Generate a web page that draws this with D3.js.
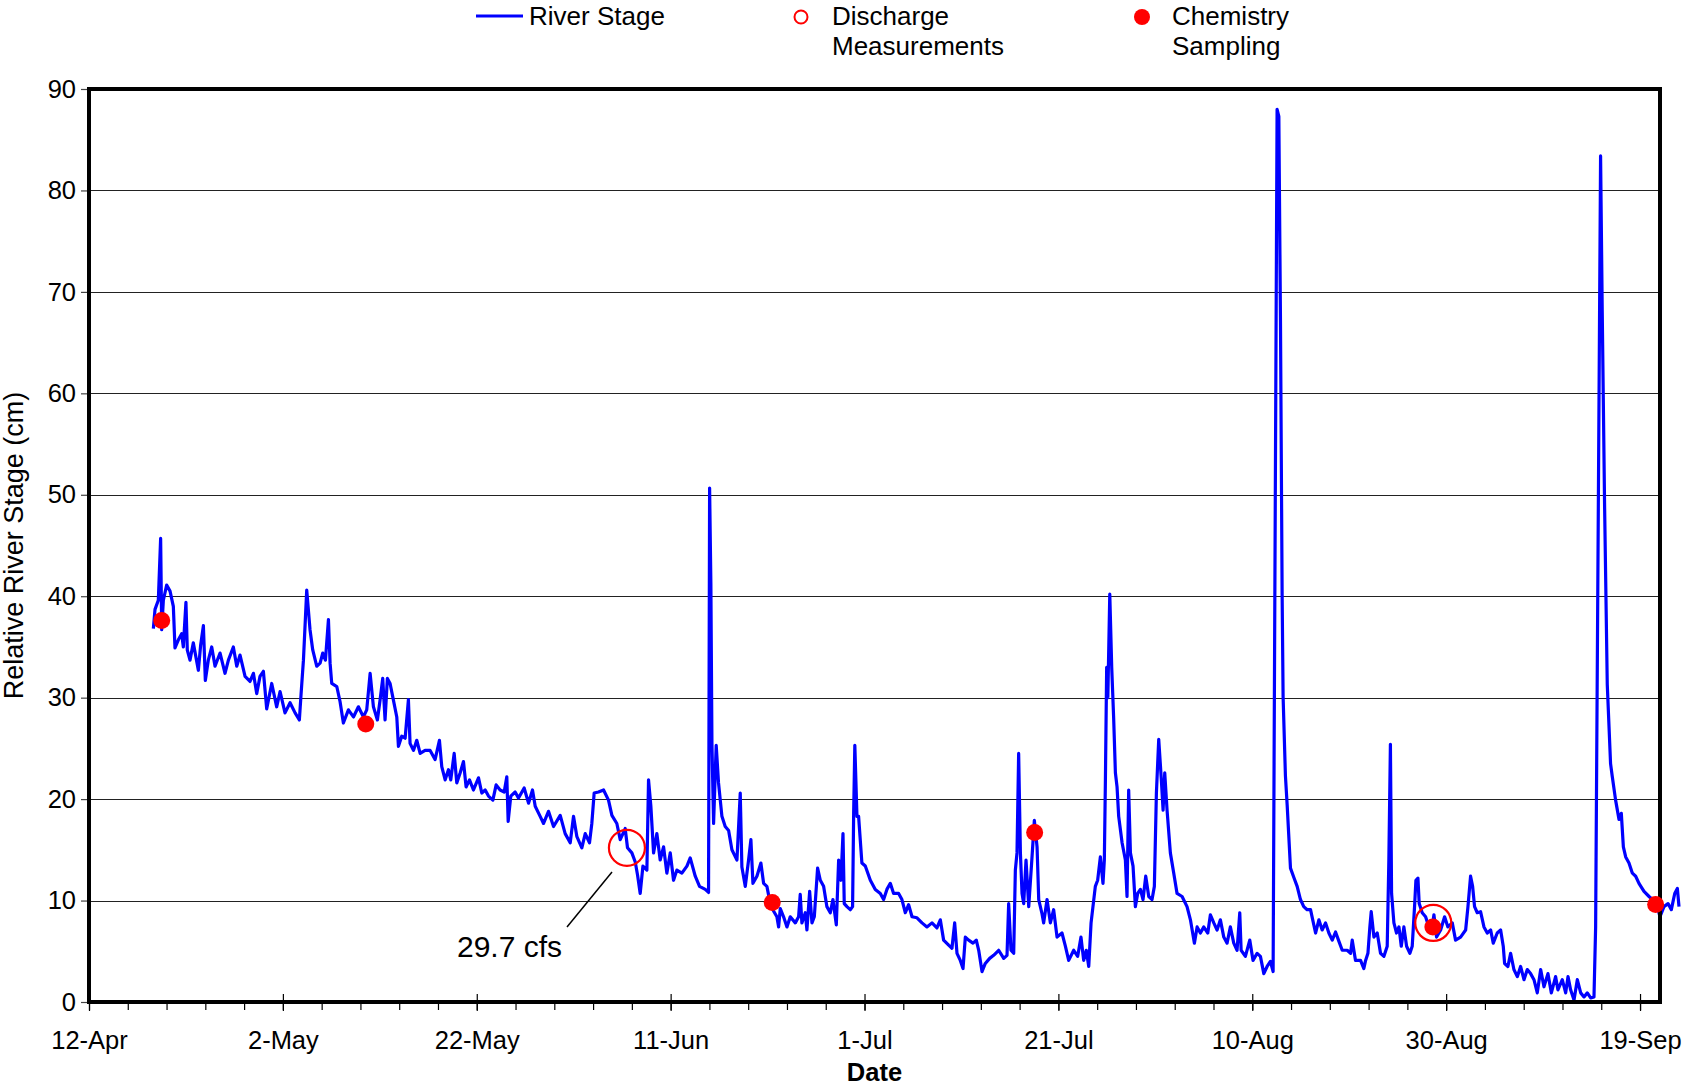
<!DOCTYPE html>
<html>
<head>
<meta charset="utf-8">
<script src="https://cdn.jsdelivr.net/npm/d3@7"></script>
<style>
  body { margin: 0; background: #fff; }
  svg { display: block; font-family: "Liberation Sans", Arial, sans-serif; }
</style>
</head>
<body>
<svg width="1684" height="1086"></svg>
<script>
// day offset from 12-Apr, stage (cm)
const riverStage = [
  [6.64,36.8],[6.81,38.7],[7.15,39.6],[7.39,45.7],[7.5,36.7],[7.67,39.6],[8.01,41.1],[8.36,40.5],[8.7,39.0],[8.87,34.9],
  [9.22,35.7],[9.56,36.3],[9.73,35.0],[10.0,39.4],[10.14,34.7],[10.42,33.7],[10.76,35.4],[11.28,32.7],[11.52,35.2],[11.8,37.1],
  [12.0,31.7],[12.31,33.7],[12.66,35.0],[13.0,33.1],[13.52,34.4],[14.03,32.4],[14.38,33.7],[14.89,35.0],[15.24,33.1],[15.58,34.2],
  [16.1,32.1],[16.61,31.6],[16.96,32.4],[17.3,30.4],[17.64,32.1],[17.99,32.6],[18.33,28.9],[18.85,31.4],[19.36,29.1],[19.71,30.6],
  [20.22,28.5],[20.74,29.5],[21.26,28.5],[21.7,27.8],[21.88,30.4],[22.12,33.7],[22.46,40.6],[22.8,36.7],[23.08,34.7],[23.49,33.1],
  [23.84,33.4],[24.11,34.4],[24.39,33.7],[24.7,37.7],[24.87,33.4],[25.04,31.4],[25.56,31.1],[25.9,29.6],[26.24,27.5],[26.76,28.8],
  [27.28,28.1],[27.79,29.1],[28.31,28.1],[28.65,28.8],[29.0,32.4],[29.34,29.1],[29.75,27.8],[30.03,29.8],[30.3,31.9],[30.54,27.8],
  [30.78,31.9],[31.06,31.4],[31.33,30.1],[31.75,28.1],[31.92,25.2],[32.26,26.2],[32.61,26.0],[32.95,29.8],[33.12,25.5],[33.47,24.8],
  [33.81,25.8],[34.16,24.5],[34.67,24.8],[35.19,24.8],[35.7,23.9],[36.15,25.8],[36.39,23.2],[36.74,21.9],[37.08,22.9],[37.32,21.9],
  [37.67,24.5],[37.94,21.6],[38.29,22.6],[38.63,23.7],[38.9,21.2],[39.25,21.9],[39.66,20.9],[40.18,22.1],[40.52,20.6],[40.87,20.9],
  [41.21,20.3],[41.66,19.9],[42.0,21.4],[42.41,20.9],[42.83,20.7],[43.1,22.2],[43.24,17.8],[43.51,20.3],[43.96,20.7],[44.31,20.1],
  [44.89,21.1],[45.34,19.6],[45.75,20.9],[46.03,19.3],[46.54,18.3],[46.89,17.6],[47.4,18.8],[47.92,17.3],[48.61,18.4],[49.12,16.6],
  [49.64,15.7],[49.98,18.3],[50.33,16.3],[50.84,15.2],[51.19,16.6],[51.63,15.7],[51.87,17.6],[52.11,20.6],[52.56,20.7],[53.08,20.9],
  [53.59,19.9],[53.94,18.4],[54.45,17.6],[54.8,16.0],[55.31,17.1],[55.55,15.2],[56.0,14.7],[56.35,13.8],[56.59,12.5],[56.86,10.7],
  [57.14,13.4],[57.55,13.0],[57.72,21.9],[57.96,19.3],[58.24,14.7],[58.58,16.6],[58.92,14.0],[59.27,15.3],[59.61,12.7],[59.96,14.7],
  [60.3,12.0],[60.64,13.0],[61.16,12.7],[61.68,13.4],[62.02,14.2],[62.54,12.4],[62.98,11.4],[63.57,11.1],[63.91,10.8],[64.02,50.66],
  [64.15,41.3],[64.26,25.5],[64.43,17.6],[64.7,25.3],[64.94,21.6],[65.29,18.3],[65.63,17.3],[65.98,16.9],[66.32,15.0],[66.84,14.0],
  [67.18,20.6],[67.35,13.3],[67.7,11.4],[68.04,14.0],[68.28,16.0],[68.49,11.7],[68.9,12.4],[69.31,13.7],[69.59,11.7],[69.93,11.4],
  [70.28,9.7],[70.6,9.0],[70.96,8.4],[71.14,7.4],[71.31,9.2],[71.65,8.4],[72.0,7.4],[72.34,8.4],[72.86,7.8],[73.2,8.4],
  [73.37,10.6],[73.54,7.8],[73.89,8.8],[74.06,7.1],[74.34,10.9],[74.58,7.8],[74.82,8.4],[75.16,13.2],[75.44,12.0],[75.78,11.4],
  [76.12,9.4],[76.47,8.8],[76.74,10.1],[77.09,7.6],[77.33,14.0],[77.57,12.0],[77.78,16.6],[77.91,9.7],[78.19,9.4],[78.53,9.1],
  [78.77,9.4],[78.88,18.6],[79.0,25.3],[79.22,18.3],[79.39,18.3],[79.73,13.7],[80.08,13.4],[80.6,12.0],[81.11,11.1],[81.63,10.7],
  [81.97,10.1],[82.31,11.1],[82.66,11.7],[83.0,10.7],[83.52,10.7],[83.86,10.1],[84.21,8.8],[84.55,9.6],[84.9,8.4],[85.41,8.3],
  [85.93,7.8],[86.44,7.4],[86.96,7.8],[87.47,7.3],[87.82,8.1],[88.16,6.1],[88.68,5.6],[89.02,5.3],[89.3,7.8],[89.54,4.8],
  [89.88,4.1],[90.16,3.3],[90.4,6.4],[90.74,6.1],[91.19,5.8],[91.53,6.1],[91.78,5.1],[92.12,3.0],[92.46,3.8],[92.91,4.3],
  [93.32,4.6],[93.84,5.1],[94.36,4.3],[94.7,4.6],[94.87,9.7],[95.11,5.1],[95.39,4.8],[95.56,13.0],[95.73,14.7],[95.9,24.5],
  [96.08,14.7],[96.25,10.7],[96.42,9.7],[96.66,14.0],[96.94,9.4],[97.28,14.3],[97.52,17.9],[97.8,15.3],[97.97,10.1],[98.31,8.7],
  [98.48,7.8],[98.83,10.1],[99.17,7.8],[99.51,9.1],[99.86,6.4],[100.37,6.8],[100.72,5.5],[101.06,4.1],[101.58,5.1],[101.99,4.5],
  [102.33,6.4],[102.61,4.1],[102.88,5.1],[103.13,3.5],[103.37,7.8],[103.81,11.4],[104.05,12.0],[104.33,14.3],[104.6,11.7],[104.74,14.0],
  [104.85,21.9],[104.98,33.0],[105.1,30.0],[105.3,40.2],[105.5,33.0],[105.7,28.0],[105.88,22.6],[106.05,21.2],[106.22,18.3],[106.57,15.7],
  [106.91,14.0],[107.08,10.4],[107.25,20.9],[107.43,14.7],[107.7,13.4],[107.94,9.4],[108.18,10.7],[108.46,11.1],[108.73,10.1],[109.01,12.4],
  [109.32,10.4],[109.66,10.1],[109.9,11.4],[110.11,20.6],[110.35,25.9],[110.62,21.9],[110.8,18.9],[110.97,22.6],[111.21,18.9],[111.55,14.7],
  [111.9,12.7],[112.24,10.7],[112.76,10.4],[113.27,9.4],[113.62,8.1],[114.03,5.8],[114.31,7.4],[114.65,6.8],[114.99,7.4],[115.41,6.8],
  [115.68,8.6],[116.03,7.8],[116.37,7.1],[116.71,8.1],[117.06,6.4],[117.4,5.8],[117.74,7.4],[118.09,5.8],[118.43,5.1],[118.71,8.8],
  [118.85,5.1],[119.29,4.5],[119.74,6.1],[120.08,4.1],[120.5,4.8],[120.84,4.5],[121.19,2.8],[121.53,3.5],[121.87,4.0],[122.15,3.0],
  [122.56,88.0],[122.74,87.3],[122.91,67.0],[123.08,40.2],[123.18,30.1],[123.42,22.3],[123.6,19.4],[123.94,13.2],[124.28,12.3],[124.63,11.4],
  [124.97,10.1],[125.31,9.4],[125.66,9.1],[126.01,9.1],[126.17,8.4],[126.53,6.8],[126.87,8.1],[127.21,7.1],[127.56,7.8],[127.9,6.8],
  [128.25,6.1],[128.59,6.9],[128.93,6.0],[129.28,5.1],[129.79,5.1],[130.14,4.8],[130.31,6.1],[130.65,4.1],[131.17,4.1],[131.51,3.3],
  [131.69,4.1],[131.93,4.8],[132.13,7.4],[132.27,8.9],[132.55,6.4],[132.89,6.8],[133.23,4.8],[133.58,4.5],[133.92,5.5],[134.09,14.0],
  [134.25,25.4],[134.37,10.7],[134.61,7.8],[134.88,6.8],[135.13,7.4],[135.37,5.5],[135.64,7.4],[135.92,5.5],[136.26,4.8],[136.5,5.5],
  [136.74,9.4],[136.88,12.0],[137.09,12.2],[137.22,9.7],[137.53,8.8],[137.88,8.4],[138.22,7.4],[138.46,6.8],[138.74,8.6],[139.01,6.4],
  [139.43,7.1],[139.84,8.4],[140.18,7.4],[140.63,7.8],[140.97,6.1],[141.49,6.4],[142.01,7.1],[142.25,9.4],[142.52,12.4],[142.73,11.4],
  [142.93,9.4],[143.21,8.8],[143.55,8.9],[143.9,7.4],[144.24,6.8],[144.59,7.1],[144.86,5.8],[145.27,6.8],[145.62,7.1],[145.89,5.5],
  [146.03,3.8],[146.37,3.5],[146.65,4.8],[146.99,3.2],[147.34,2.5],[147.68,3.5],[148.03,2.2],[148.37,3.2],[148.71,2.8],[149.06,2.2],
  [149.4,0.9],[149.75,3.2],[150.09,1.5],[150.5,2.8],[150.85,0.9],[151.29,2.5],[151.53,1.2],[151.98,2.2],[152.33,0.9],[152.57,2.5],
  [152.84,1.2],[153.19,0.2],[153.53,2.2],[153.88,0.9],[154.22,0.5],[154.56,0.9],[154.91,0.4],[155.25,0.5],[155.42,7.4],[155.93,83.4],
  [156.1,68.2],[156.34,49.2],[156.62,31.3],[156.96,23.5],[157.14,22.2],[157.48,19.9],[157.83,18.0],[158.07,18.6],[158.28,15.3],[158.52,14.3],
  [158.86,13.7],[159.21,12.7],[159.55,12.4],[159.89,11.7],[160.41,10.9],[160.93,10.4],[161.27,10.1],[161.79,9.4],[162.06,8.4],[162.47,9.4],
  [162.89,9.7],[163.23,9.1],[163.58,10.7],[163.85,11.2],[164.02,9.4]
];

const dischargeDays = [55.49, 138.67];
const dischargeCm = [15.2, 7.8];
const chemDays = [7.5, 28.55, 70.48, 97.55, 138.63, 161.61];
const chemCm = [37.6, 27.4, 9.8, 16.7, 7.4, 9.6];
const yTicks = [0, 10, 20, 30, 40, 50, 60, 70, 80, 90];

const start = Date.UTC(2007, 3, 12);
const msDay = 864e5;
const toDate = d => new Date(start + d * msDay);

const svg = d3.select("svg");
const plotLeft = 89, plotRight = 1660, plotTop = 89, plotBottom = 1002;

const x = d3.scaleUtc()
  .domain([toDate(0), toDate(162.06)])
  .range([plotLeft, plotRight]);
const y = d3.scaleLinear().domain([0, 90]).range([plotBottom, plotTop]);

// gridlines
svg.append("g")
  .selectAll("line")
  .data(yTicks.filter(v => v > 0 && v < 90))
  .enter()
  .append("line")
  .attr("x1", plotLeft).attr("x2", plotRight)
  .attr("y1", d => Math.round(y(d)) + 0.5)
  .attr("y2", d => Math.round(y(d)) + 0.5)
  .attr("stroke", "#222")
  .attr("stroke-width", 1);

// y axis
const yAxis = svg.append("g")
  .attr("transform", `translate(${plotLeft},0)`)
  .call(d3.axisLeft(y).tickValues(yTicks).tickSize(8).tickPadding(5));
yAxis.select(".domain").remove();
yAxis.selectAll("line").attr("stroke", "#444").attr("stroke-width", 1.2);
yAxis.selectAll("text")
  .attr("font-size", 25.5)
  .attr("fill", "#000")
  .attr("font-family", "Liberation Sans, Arial, sans-serif");

// x axis: minor ticks every 4 days, major every 20
const minorTicks = d3.range(0, 161, 4).map(toDate);
const majorTicks = d3.range(0, 161, 20).map(toDate);
const fmt = d3.utcFormat("%-d-%b");

const xMinor = svg.append("g")
  .attr("transform", `translate(0,${plotBottom})`)
  .call(d3.axisBottom(x).tickValues(minorTicks).tickSize(8).tickFormat(""));
xMinor.select(".domain").remove();
xMinor.selectAll("line").attr("stroke", "#000").attr("stroke-width", 1.2);

const xMajor = svg.append("g")
  .attr("transform", `translate(0,${plotBottom})`)
  .call(d3.axisBottom(x).tickValues(majorTicks).tickSize(9).tickPadding(20).tickFormat(fmt));
xMajor.select(".domain").remove();
xMajor.selectAll("line").attr("stroke", "#000").attr("stroke-width", 1.2).attr("y1", -8);
xMajor.selectAll("text")
  .attr("font-size", 25.5)
  .attr("fill", "#000")
  .attr("font-family", "Liberation Sans, Arial, sans-serif");

// river stage line (not clipped, runs past the frame as in the original)
const line = d3.line()
  .x(d => x(toDate(d[0])))
  .y(d => y(d[1]));

svg.append("path")
  .datum(riverStage)
  .attr("d", line)
  .attr("fill", "none")
  .attr("stroke", "#0000ff")
  .attr("stroke-width", 3.2)
  .attr("stroke-linejoin", "round");

// frame
svg.append("path")
  .attr("d", `M${plotLeft},${plotBottom}V${plotTop}H${plotRight}V${plotBottom}Z`)
  .attr("fill", "none")
  .attr("stroke", "#000")
  .attr("stroke-width", 4);

// discharge measurements
svg.append("g")
  .selectAll("circle")
  .data(dischargeDays)
  .enter()
  .append("circle")
  .attr("cx", d => x(toDate(d)))
  .attr("cy", (d, i) => y(dischargeCm[i]))
  .attr("r", 18)
  .attr("fill", "none")
  .attr("stroke", "#ff0000")
  .attr("stroke-width", 2.2);

// chemistry sampling
svg.append("g")
  .selectAll("circle")
  .data(chemDays)
  .enter()
  .append("circle")
  .attr("cx", d => x(toDate(d)))
  .attr("cy", (d, i) => y(chemCm[i]))
  .attr("r", 8.5)
  .attr("fill", "#ff0000");

// annotation
svg.append("line")
  .attr("x1", 567).attr("y1", 927)
  .attr("x2", 612).attr("y2", 872)
  .attr("stroke", "#000")
  .attr("stroke-width", 1.5);
svg.append("text")
  .attr("x", 457).attr("y", 957)
  .attr("font-size", 30)
  .text("29.7 cfs");

// axis titles
svg.append("text")
  .attr("x", (plotLeft + plotRight) / 2)
  .attr("y", 1081)
  .attr("text-anchor", "middle")
  .attr("font-size", 25.5)
  .attr("font-weight", "bold")
  .text("Date");

svg.append("text")
  .attr("transform", `translate(23,${(plotTop + plotBottom) / 2}) rotate(-90)`)
  .attr("text-anchor", "middle")
  .attr("font-size", 27)
  .text("Relative River Stage (cm)");

// legend
const legend = svg.append("g").attr("font-size", 26);
legend.append("line")
  .attr("x1", 476).attr("x2", 523)
  .attr("y1", 16).attr("y2", 16)
  .attr("stroke", "#0000ff").attr("stroke-width", 3);
legend.append("text").attr("x", 529).attr("y", 25).text("River Stage");

legend.append("circle")
  .attr("cx", 801).attr("cy", 17).attr("r", 6.5)
  .attr("fill", "none").attr("stroke", "#ff0000").attr("stroke-width", 2);
legend.append("text").attr("x", 832).attr("y", 25).text("Discharge");
legend.append("text").attr("x", 832).attr("y", 55).text("Measurements");

legend.append("circle")
  .attr("cx", 1142).attr("cy", 17).attr("r", 8)
  .attr("fill", "#ff0000");
legend.append("text").attr("x", 1172).attr("y", 25).text("Chemistry");
legend.append("text").attr("x", 1172).attr("y", 55).text("Sampling");
</script>
</body>
</html>
